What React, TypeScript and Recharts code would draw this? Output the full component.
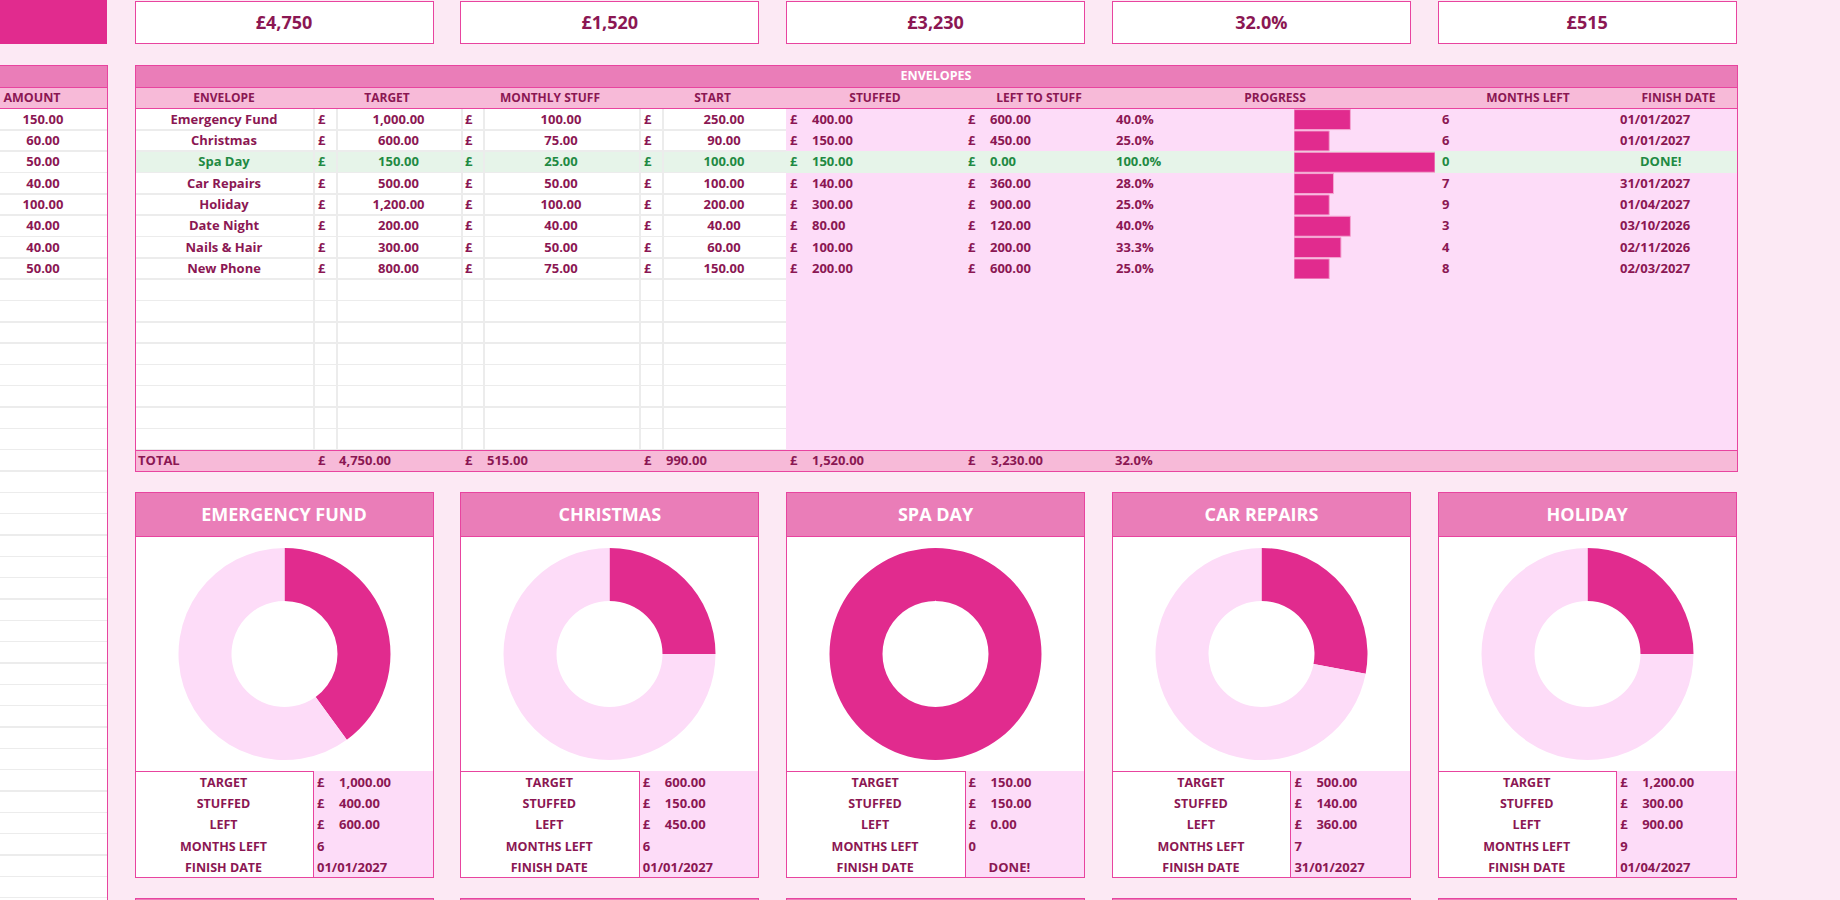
import React from 'react';
import { BarChart, Bar, XAxis, YAxis, PieChart, Pie, Cell } from 'recharts';

// ---- data ----
const envelopes = ['Emergency Fund', 'Christmas', 'Spa Day', 'Car Repairs', 'Holiday', 'Date Night', 'Nails & Hair', 'New Phone'];
const targets = [1000, 600, 150, 500, 1200, 200, 300, 800];
const monthlyStuff = [100, 75, 25, 50, 100, 40, 50, 75];
const startAmounts = [250, 90, 100, 100, 200, 40, 60, 150];
const stuffedAmounts = [400, 150, 150, 140, 300, 80, 100, 200];
const leftToStuff = [600, 450, 0, 360, 900, 120, 200, 600];
const progressPct = [40, 25, 100, 28, 25, 40, 33.3, 25];
const monthsLeft = [6, 6, 0, 7, 9, 3, 4, 8];
const finishDates = ['01/01/2027', '01/01/2027', 'DONE!', '31/01/2027', '01/04/2027', '03/10/2026', '02/11/2026', '02/03/2027'];
const amounts = [150, 60, 50, 40, 100, 40, 40, 50];
const kpiValues = ['£4,750', '£1,520', '£3,230', '32.0%', '£515'];
const totalTarget = 4750;
const totalMonthly = 515;
const totalStart = 990;
const totalStuffed = 1520;
const totalLeft = 3230;
const totalPct = 32.0;
const cardLabels = ['TARGET', 'STUFFED', 'LEFT', 'MONTHS LEFT', 'FINISH DATE'];

// ---- colours ----
const BG = '#fce9f4';
const DARK = '#e12b8e';
const LIGHT = '#fddcf8';
const HEAD = '#ea7db8';
const SUB = '#f7bad8';
const BORDER = '#e8449f';
const TEXT = '#8b1753';
const GREEN_BG = '#e6f4e9';
const GREEN = '#1f8a43';
const GRID = '#ececec';

const ROW = 21.33;
const BODY_TOP = 108.7;
const BODY_ROWS = 16;
const DONE_ROW = 2;

const fmt = (n: number) =>
  n.toLocaleString('en-GB', { minimumFractionDigits: 2, maximumFractionDigits: 2 });

const T = ({ x, y, w, h, align = 'left', style, children }: any) => (
  <div
    style={{
      position: 'absolute', left: x, top: y, width: w, height: h,
      lineHeight: `${h}px`, textAlign: align, whiteSpace: 'nowrap', ...style,
    }}
  >
    {children}
  </div>
);

const Box = ({ x, y, w, h, bg, border, style }: any) => (
  <div
    style={{
      position: 'absolute', left: x, top: y, width: w, height: h,
      background: bg, border, boxSizing: 'border-box', ...style,
    }}
  />
);

const progressData = envelopes.map((name, i) => ({ name, progress: progressPct[i] }));

const CARD_W = 299;
const cardX = (k: number) => 134.5 + k * 325.8;
const capStyle = { fontSize: 12.5, fontWeight: 700 };

const EnvelopeCard = ({ k }: { k: number }) => {
  const x = cardX(k);
  const pieData = [
    { name: 'Stuffed', value: stuffedAmounts[k] },
    { name: 'Left', value: leftToStuff[k] },
  ];
  const pound = [true, true, true, false, false];
  const nums = [fmt(targets[k]), fmt(stuffedAmounts[k]), fmt(leftToStuff[k]), String(monthsLeft[k]), finishDates[k]];
  const divX = x + 178.5;
  return (
    <>
      <Box x={x} y={492} w={CARD_W} h={44.5} bg={HEAD} border={`1px solid ${BORDER}`} />
      <T x={x} y={492} w={CARD_W} h={44} align="center"
        style={{ color: '#fff', fontSize: 18, fontWeight: 700 }}>
        {envelopes[k].toUpperCase()}
      </T>
      <Box x={x} y={535.5} w={CARD_W} h={236} bg="#fff" border={`1px solid ${BORDER}`} />
      <div style={{ position: 'absolute', left: x, top: 536 }}>
        <PieChart width={CARD_W} height={235} margin={{ top: 0, right: 0, bottom: 0, left: 0 }}>
          <Pie
            data={pieData}
            dataKey="value"
            cx={149.5}
            cy={118}
            innerRadius={53}
            outerRadius={106}
            startAngle={90}
            endAngle={-270}
            stroke="none"
            isAnimationActive={false}
          >
            <Cell fill={DARK} />
            <Cell fill={LIGHT} />
          </Pie>
        </PieChart>
      </div>
      <Box x={x} y={771} w={CARD_W} h={107} bg="#fff" border={`1px solid ${BORDER}`} />
      <Box x={divX} y={771} w={CARD_W - 178.5} h={107} bg={LIGHT}
        style={{ borderLeft: `1px solid ${BORDER}`, borderRight: `1px solid ${BORDER}`, borderBottom: `1px solid ${BORDER}` }} />
      {cardLabels.map((lab, r) => (
        <React.Fragment key={lab}>
          <T x={x} y={772 + r * 21.2} w={178} h={21.2} align="center" style={capStyle}>{lab}</T>
          {pound[r] && <T x={divX + 4} y={772 + r * 21.2} w={12} h={21.2}>£</T>}
          {nums[r] === 'DONE!' ? (
            <T x={divX + 24} y={772 + r * 21.2} w={60} h={21.2}>{nums[r]}</T>
          ) : (
            <T x={pound[r] ? divX + 26 : divX + 4} y={772 + r * 21.2} w={90} h={21.2}>{nums[r]}</T>
          )}
        </React.Fragment>
      ))}
    </>
  );
};

export default function App() {
  const colLines = [313, 336, 461, 483, 639, 662];
  const leftRows = Math.ceil((900 - BODY_TOP) / ROW);
  return (
    <div
      style={{
        position: 'absolute', left: 0, top: 0, width: 1840, height: 900, background: BG,
        overflow: 'hidden', fontFamily: '"Open Sans", "Noto Sans", sans-serif',
        fontSize: 13, fontWeight: 700, color: TEXT,
      }}
    >
      {/* top-left block */}
      <Box x={0} y={0} w={107} h={44} bg={DARK} />

      {/* KPI boxes */}
      {kpiValues.map((v, k) => (
        <React.Fragment key={k}>
          <Box x={cardX(k)} y={1} w={CARD_W} h={43} bg="#fff" border={`1.5px solid ${BORDER}`} />
          <T x={cardX(k)} y={1} w={CARD_W} h={43} align="center" style={{ fontSize: 18, fontWeight: 700 }}>{v}</T>
        </React.Fragment>
      ))}

      {/* left amount table */}
      <Box x={0} y={65} w={107} h={835} bg="#fff" />
      {Array.from({ length: leftRows }).map((_, r) => (
        <Box key={r} x={0} y={BODY_TOP + (r + 1) * ROW - 1} w={107} h={1.5} bg={GRID} />
      ))}
      <Box x={0} y={65} w={107} h={22} bg={HEAD} style={{ borderTop: `1px solid ${BORDER}` }} />
      <Box x={0} y={87} w={107} h={21.7} bg={SUB} style={{ borderTop: `1px solid ${BORDER}`, borderBottom: `1.5px solid ${BORDER}` }} />
      <T x={0} y={87} w={64} h={21.7} align="center" style={capStyle}>AMOUNT</T>
      {amounts.map((a, r) => (
        <T key={r} x={13} y={BODY_TOP + r * ROW} w={60} h={ROW} align="center">{fmt(a)}</T>
      ))}
      <Box x={106.5} y={65} w={1.5} h={835} bg={BORDER} />

      {/* envelopes table */}
      <Box x={134.5} y={65} w={1603} h={407} bg="#fff" />
      <Box x={786} y={BODY_TOP} w={951} h={BODY_ROWS * ROW} bg={LIGHT} />
      <Box x={134.5} y={BODY_TOP + DONE_ROW * ROW} w={1603} h={ROW} bg={GREEN_BG} />
      {Array.from({ length: BODY_ROWS }).map((_, r) => (
        <Box key={r} x={135} y={BODY_TOP + (r + 1) * ROW - 1} w={651} h={1.5} bg={GRID} />
      ))}
      {colLines.map((cx) => (
        <Box key={cx} x={cx} y={BODY_TOP} w={1.5} h={BODY_ROWS * ROW} bg={GRID} />
      ))}
      <Box x={134.5} y={65} w={1603} h={22} bg={HEAD} />
      <T x={134.5} y={65} w={1603} h={22} align="center" style={{ color: '#fff', fontSize: 12.5, fontWeight: 700 }}>ENVELOPES</T>
      <Box x={134.5} y={86.5} w={1603} h={22.2} bg={SUB}
        style={{ borderTop: `1.5px solid ${BORDER}`, borderBottom: `1.5px solid ${BORDER}` }} />
      {[
        ['ENVELOPE', 135, 313], ['TARGET', 313, 461], ['MONTHLY STUFF', 461, 639], ['START', 639, 786],
        ['STUFFED', 786, 964], ['LEFT TO STUFF', 964, 1114], ['PROGRESS', 1114, 1436],
        ['MONTHS LEFT', 1436, 1620], ['FINISH DATE', 1620, 1737],
      ].map(([lab, a, b]: any) => (
        <T key={lab} x={a} y={87} w={b - a} h={21.7} align="center" style={{ fontSize: 12 }}>{lab}</T>
      ))}

      {envelopes.map((name, r) => {
        const y = BODY_TOP + r * ROW;
        const st = r === DONE_ROW ? { color: GREEN } : undefined;
        return (
          <React.Fragment key={name}>
            <T x={135} y={y} w={178} h={ROW} align="center" style={st}>{name}</T>
            <T x={318} y={y} w={14} h={ROW} style={st}>£</T>
            <T x={336} y={y} w={125} h={ROW} align="center" style={st}>{fmt(targets[r])}</T>
            <T x={465} y={y} w={14} h={ROW} style={st}>£</T>
            <T x={483} y={y} w={156} h={ROW} align="center" style={st}>{fmt(monthlyStuff[r])}</T>
            <T x={644} y={y} w={14} h={ROW} style={st}>£</T>
            <T x={662} y={y} w={124} h={ROW} align="center" style={st}>{fmt(startAmounts[r])}</T>
            <T x={790} y={y} w={14} h={ROW} style={st}>£</T>
            <T x={812} y={y} w={120} h={ROW} style={st}>{fmt(stuffedAmounts[r])}</T>
            <T x={968} y={y} w={14} h={ROW} style={st}>£</T>
            <T x={990} y={y} w={120} h={ROW} style={st}>{fmt(leftToStuff[r])}</T>
            <T x={1116} y={y} w={80} h={ROW} style={st}>{progressPct[r].toFixed(1)}%</T>
            <T x={1442} y={y} w={40} h={ROW} style={st}>{monthsLeft[r]}</T>
            {finishDates[r] === 'DONE!' ? (
              <T x={1640} y={y} w={60} h={ROW} style={st}>{finishDates[r]}</T>
            ) : (
              <T x={1620} y={y} w={100} h={ROW} style={st}>{finishDates[r]}</T>
            )}
          </React.Fragment>
        );
      })}

      {/* progress bars */}
      <div style={{ position: 'absolute', left: 1294, top: BODY_TOP }}>
        <BarChart
          width={141}
          height={envelopes.length * ROW}
          data={progressData}
          layout="vertical"
          margin={{ top: 0, right: 0, bottom: 0, left: 0 }}
          barCategoryGap={0.6}
        >
          <XAxis type="number" domain={[0, 100]} hide />
          <YAxis type="category" dataKey="name" hide />
          <Bar dataKey="progress" fill={DARK} stroke="#f4a6d2" strokeWidth={1} isAnimationActive={false} />
        </BarChart>
      </div>

      {/* total row */}
      <Box x={134.5} y={449.5} w={1603} h={22.5} bg={SUB}
        style={{ borderTop: `1.5px solid ${BORDER}`, borderBottom: `1.5px solid ${BORDER}` }} />
      <T x={138} y={450} w={60} h={21.5}>TOTAL</T>
      <T x={318} y={450} w={14} h={21.5}>£</T>
      <T x={339} y={450} w={100} h={21.5}>{fmt(totalTarget)}</T>
      <T x={465} y={450} w={14} h={21.5}>£</T>
      <T x={487} y={450} w={100} h={21.5}>{fmt(totalMonthly)}</T>
      <T x={644} y={450} w={14} h={21.5}>£</T>
      <T x={666} y={450} w={100} h={21.5}>{fmt(totalStart)}</T>
      <T x={790} y={450} w={14} h={21.5}>£</T>
      <T x={812} y={450} w={100} h={21.5}>{fmt(totalStuffed)}</T>
      <T x={968} y={450} w={14} h={21.5}>£</T>
      <T x={991} y={450} w={100} h={21.5}>{fmt(totalLeft)}</T>
      <T x={1115} y={450} w={80} h={21.5}>{totalPct.toFixed(1)}%</T>
      <Box x={134.5} y={65} w={1603} h={407} border={`1.5px solid ${BORDER}`} />

      {/* envelope cards */}
      {[0, 1, 2, 3, 4].map((k) => (
        <EnvelopeCard key={k} k={k} />
      ))}
      {[0, 1, 2, 3, 4].map((k) => (
        <Box key={'n' + k} x={cardX(k)} y={898} w={CARD_W} h={10} bg={HEAD} border={`1px solid ${BORDER}`} />
      ))}
    </div>
  );
}
